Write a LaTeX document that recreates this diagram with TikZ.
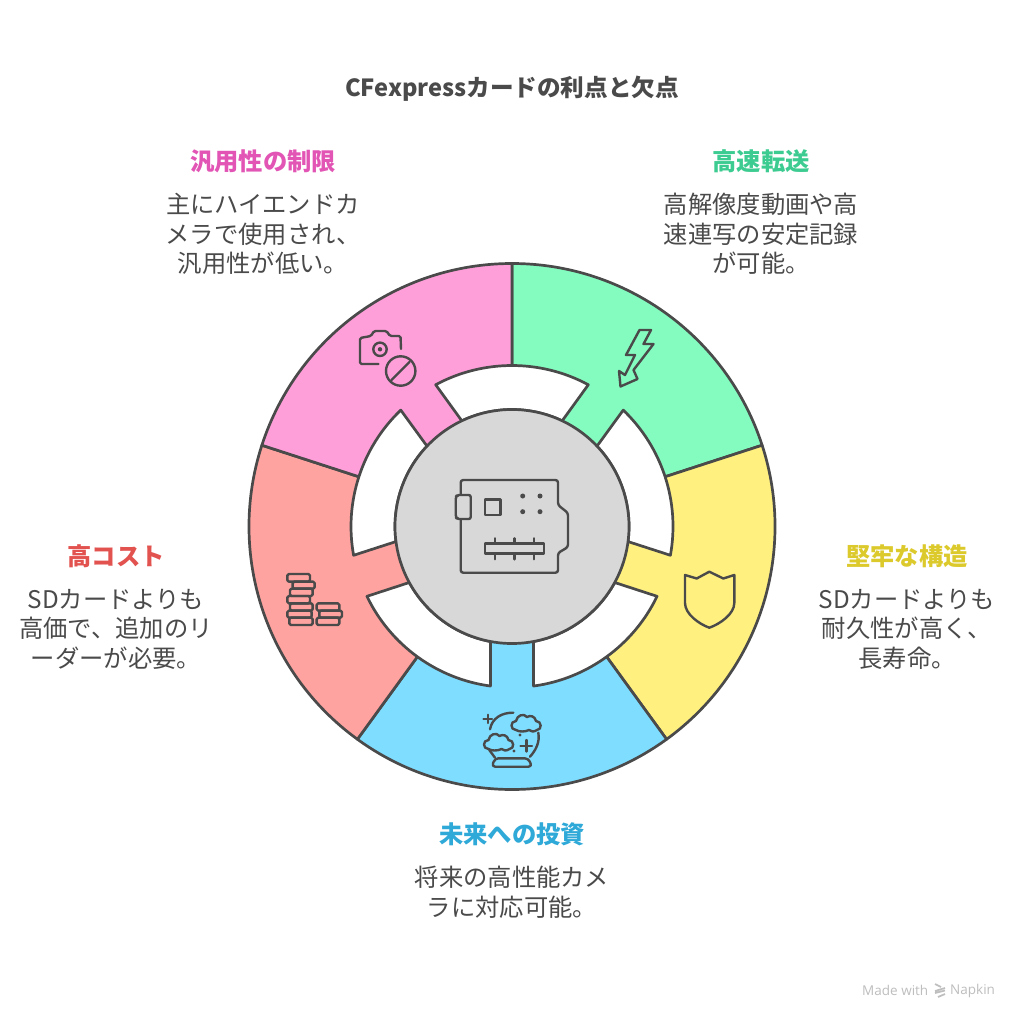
\documentclass[tikz,border=0pt]{standalone}
\usepackage{fontspec}
\setmainfont{Noto Sans CJK JP}
\newfontfamily\wm{Open Sans}
\usetikzlibrary{calc}
\definecolor{ink}{HTML}{4A4A4A}
\definecolor{cpink}{HTML}{FF9FDA}
\definecolor{cgreen}{HTML}{84FCC0}
\definecolor{cyellow}{HTML}{FFF080}
\definecolor{cblue}{HTML}{7FDDFF}
\definecolor{cred}{HTML}{FFA3A0}
\definecolor{cgray}{HTML}{D8D8D8}
\definecolor{tpink}{HTML}{E255B5}
\definecolor{tgreen}{HTML}{3CCB90}
\definecolor{tyellow}{HTML}{DCC92B}
\definecolor{tblue}{HTML}{2FA9D8}
\definecolor{tred}{HTML}{E2524F}
\definecolor{wmark}{HTML}{BEBEBE}
\tikzset{
  ln/.style={draw=ink,line width=2.7pt,line join=round},
  ic/.style={draw=ink,line width=2.4pt,line join=round,line cap=round},
  heading/.style={font=\fontsize{24.3}{28}\selectfont\bfseries,align=center,inner sep=0pt},
  body/.style={font=\fontsize{24.3}{29.5}\selectfont,text=ink,align=center,inner sep=0pt},
}
\newcommand{\sect}[3]{\path[ln,fill=#1] (0,0) -- (#2:263) arc[start angle=#2,end angle=#3,radius=263] -- cycle;}
\newcommand{\gap}[1]{\path[ln,fill=white] ({#1+28.3}:161) arc[start angle={#1+28.3},end angle={#1-28.3},radius=161] -- ({#1-25.4}:117) arc[start angle={#1-25.4},end angle={#1+25.4},radius=117] -- cycle;}
\newcommand{\cloud}[2]{\begin{scope}[shift={(#1,#2)}]
 \path[ic] (4,16) .. controls (-2,16) and (-2,7) .. (4,7) .. controls (5,1) and (12,-1) .. (15,3) .. controls (18,1) and (23,2) .. (24,7) .. controls (30,7) and (30,16) .. (25,16) .. controls (22,18) and (19,18) .. (17,16) .. controls (13,18) and (7,18) .. (4,16) -- cycle;
 \end{scope}}
\begin{document}
\begin{tikzpicture}[x=1pt,y=-1pt]
\useasboundingbox (0,0) rectangle (1024,1024);
\fill[white] (0,0) rectangle (1024,1024);
\begin{scope}[shift={(512,526.5)},yscale=-1]
 \sect{cgreen}{90}{18}
 \sect{cyellow}{18}{-54}
 \sect{cblue}{-54}{-126}
 \sect{cred}{-126}{-198}
 \sect{cpink}{162}{90}
 \gap{90}\gap{18}\gap{-54}\gap{-126}\gap{162}
 \path[ln,fill=cgray] (0,0) circle[radius=117];
\end{scope}
% chip
\path[ic,rounded corners=2.5pt] (460.7,480) -- (558,480) -- (558,505) -- (568,513) -- (568,547) -- (558,553) -- (558,572.7) -- (460.7,572.7) -- cycle;
\path[ic,fill=cgray,rounded corners=2pt] (470.7,495) -- (457,495) -- (455.7,497) -- (455.7,517) -- (457,519) -- (470.7,519) -- cycle;
\path[ic] (485,499.3) rectangle (500.3,514.7);
\foreach \px/\py in {522.7/496,540/496,522.7/511.7,540/511.7} \fill[ink] (\px,\py) circle[radius=2.5];
\path[ic] (485,543.3) rectangle (544,553.3);
\foreach \px in {495,514.3,534} \path[ic] (\px,538.3) -- (\px,543.3) (\px,553.3) -- (\px,559.3);
% camera
\path[ic,rounded corners=1.5pt] (378.3,364) -- (360,364) -- (360,338) -- (371,336) -- (374,331) -- (386.5,331) -- (390,336) -- (400.5,336) -- (401,349);
\path[ic] (380,349.3) circle[radius=6.7];
\fill[ink] (380,349.3) circle[radius=2.2];
\path[ic] (400.7,371) circle[radius=14.7];
\path[ic] (391.5,380) -- (409.5,362);
% bolt
\path[ic] (639.5,330) -- (651,330) -- (643.5,344) -- (653.5,344) -- (633.5,370) -- (637.5,379) -- (620.5,386.5) -- (619,371) -- (625,375) -- (635,355) -- (626,355) -- cycle;
% shield
\path[ic] (685,575) -- (696.7,578.5) -- (709.3,571.7) -- (723.3,578.5) -- (734.3,575) -- (734.3,603) .. controls (734.3,614) and (720,624) .. (709.3,627.7) .. controls (699,624) and (685,614) .. (685,603) -- cycle;
% coins
\tikzset{coin/.style={ic,rounded corners=1.5pt}}
\foreach \xa/\ya/\xb/\yb in {52/762/120/785,68/785/134/806,60/806/128/828,52/828/120/850,60/850/128/872,52/872/125/893,58/893/128/915,140/850/208/872,148/872/216/893,140/893/208/915}
  \path[coin] ({270+\xa/3},{320+\ya/3}) rectangle ({270+\xb/3},{320+\yb/3});
% crystal ball
\path[ic] (490,729.3) .. controls (492,718) and (502,712.5) .. (513.3,712.7);
\path[ic] (538.3,732.7) .. controls (540,742) and (536,750) .. (530,756.7);
\path[ic] (489.3,750) -- (495,757.7);
\path[ic,rounded corners=3.5pt] (495,758.3) -- (528.3,758.3) -- (532,766.7) -- (491.7,766.7) -- cycle;
\cloud{512}{714}
\cloud{484.5}{733}
\path[ic] (487.7,714.7) -- (487.7,723) (483.5,718.8) -- (492,718.8);
\path[ic] (526.3,740) -- (526.3,751.5) (520.5,745.7) -- (532,745.7);
\fill[ink] (520,735) circle[radius=1.7] (514,751) circle[radius=1.7];
% texts
\node[heading,text=ink,font=\fontsize{23.6}{28}\selectfont\bfseries] (title) at (512,88.5) {CFexpressカードの利点と欠点};
\node[heading,text=tpink] (h1) at (263,161) {汎用性の制限};
\node[body] (b1) at (263,234) {主にハイエンドカ\\メラで使用され、\\汎用性が低い。};
\node[heading,text=tgreen] (h2) at (761,161) {高速転送};
\node[body] (b2) at (761,234) {高解像度動画や高\\速連写の安定記録\\が可能。};
\node[heading,text=tred] (h3) at (116,556) {高コスト};
\node[body] (b3) at (116,629) {SDカードよりも\\高価で、追加のリ\\ーダーが必要。};
\node[heading,text=tyellow] (h4) at (907,556) {堅牢な構造};
\node[body] (b4) at (907,629) {SDカードよりも\\耐久性が高く、\\長寿命。};
\node[heading,text=tblue] (h5) at (512,834) {未来への投資};
\node[body] (b5) at (512,892) {将来の高性能カメ\\ラに対応可能。};
% watermark
\node[font=\wm\fontsize{13.5}{16}\selectfont,text=wmark,inner sep=0pt,anchor=west] (wm1) at (862,990.5) {Made with};
\node[font=\wm\fontsize{13.5}{16}\selectfont,text=wmark,inner sep=0pt,anchor=west] (wm2) at (950,990.5) {Napkin};
\path[draw=wmark,line width=1.7pt] (935,984) -- (941,987) (945,988) -- (935,991) (935,993) -- (945,990.5) (945,994) -- (938,997);
\end{tikzpicture}
\end{document}
